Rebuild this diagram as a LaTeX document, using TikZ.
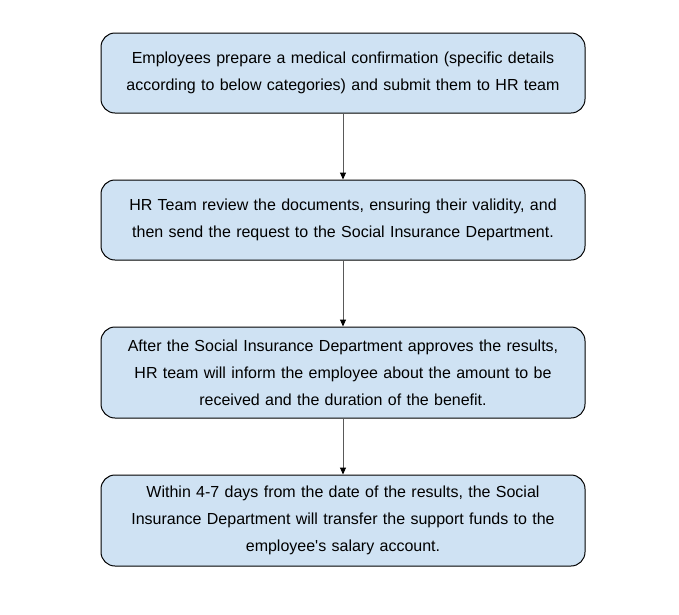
\documentclass[tikz,border=0pt]{standalone}
\usepackage{fontspec}
\setmainfont{Liberation Sans}
\usetikzlibrary{arrows.meta}
\definecolor{boxfill}{HTML}{CFE2F3}
\definecolor{arrowgray}{HTML}{595959}
\tikzset{
  stepbox/.style={draw=black, line width=1pt, fill=boxfill, rounded corners=14pt,
    minimum width=484pt, text width=476pt, align=center, inner sep=0pt,
    font=\fontsize{16}{27}\selectfont},
  flowarrow/.style={draw=arrowgray, line width=1pt, -{Triangle[length=7pt,width=6pt,fill=black,color=black]}}
}
\begin{document}
\begin{tikzpicture}[x=1pt,y=-1pt]
\useasboundingbox (0,0) rectangle (679,614);
\node[stepbox, minimum height=80pt] (b1) at (343,73) {Employees prepare a medical confirmation (specific details\\according to below categories) and submit them to HR team};
\node[stepbox, minimum height=80pt] (b2) at (343,220) {HR Team review the documents, ensuring their validity, and\\then send the request to the Social Insurance Department.};
\node[stepbox, minimum height=91pt] (b3) at (343,372.5) {After the Social Insurance Department approves the results,\\HR team will inform the employee about the amount to be\\received and the duration of the benefit.};
\node[stepbox, minimum height=91pt] (b4) at (343,520.5) {Within 4-7 days from the date of the results, the Social\\Insurance Department will transfer the support funds to the\\employee\textquotesingle s salary account.};
\draw[flowarrow] (b1) -- (b2);
\draw[flowarrow] (b2) -- (b3);
\draw[flowarrow] (b3) -- (b4);
\end{tikzpicture}
\end{document}
